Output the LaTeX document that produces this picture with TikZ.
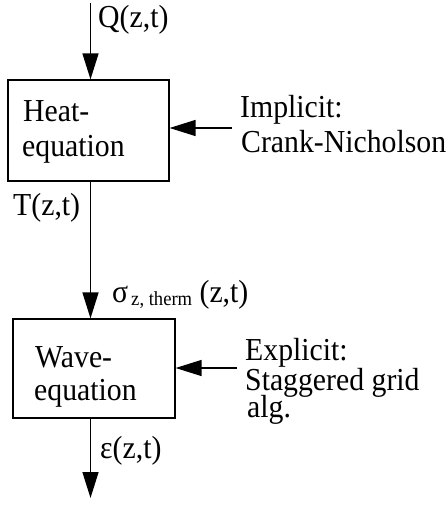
\documentclass[tikz,border=0pt]{standalone}
\usepackage{fontspec}
\setmainfont{Liberation Serif}[FakeStretch=0.93]
\usetikzlibrary{arrows.meta}
\begin{document}
\begin{tikzpicture}[x=1pt,y=-1pt,
  box/.style={draw, line width=1.2pt, inner sep=0pt},
  lbl/.style={anchor=base west, inner sep=0pt, font=\fontsize{32}{35}\selectfont},
  arr/.style={line width=1.3pt, -{Triangle[length=26pt,width=16pt]}}]
\useasboundingbox (0,0) rectangle (447,505);
% boxes
\node[box, minimum width=161pt, minimum height=101pt] (heat) at (88.5,130.5) {};
\node[box, minimum width=162pt, minimum height=99pt] (wave) at (94,368.5) {};
% connector end points
\coordinate (qin) at (90.5,3);
\coordinate (eout) at (90.5,498);
\coordinate (impl) at (232,128);
\coordinate (expl) at (237,368);
% connectors
\draw[arr] (qin) -- (qin |- heat.north);
\draw[arr] (qin |- heat.south) -- (qin |- wave.north);
\draw[arr] (qin |- wave.south) -- (eout);
\draw[arr] (impl) -- (impl -| heat.east);
\draw[arr] (expl) -- (expl -| wave.east);
% texts
\node[lbl] (q) at (98,28) {Q(z,t)};
\node[lbl] (h1) at (23,122) {Heat-};
\node[lbl] (h2) at (22,157) {equation};
\node[lbl] (i1) at (240,118) {Implicit:};
\node[lbl] (i2) at (241,153) {Crank-Nicholson};
\node[lbl] (t) at (13,215) {T(z,t)};
\node[lbl] (s) at (112,302) {σ\kern3pt\raisebox{-3pt}{\fontsize{20}{22}\selectfont z, therm} (z,t)};
\node[lbl] (w1) at (35,367) {Wave-};
\node[lbl] (w2) at (34,400) {equation};
\node[lbl, align=left, font=\fontsize{32}{29}\selectfont] (e1) at (245,417) {Explicit:\\Staggered grid\\[-4pt]\kern2pt alg.};
\node[lbl] (eps) at (100,458) {ε(z,t)};
\end{tikzpicture}
\end{document}
